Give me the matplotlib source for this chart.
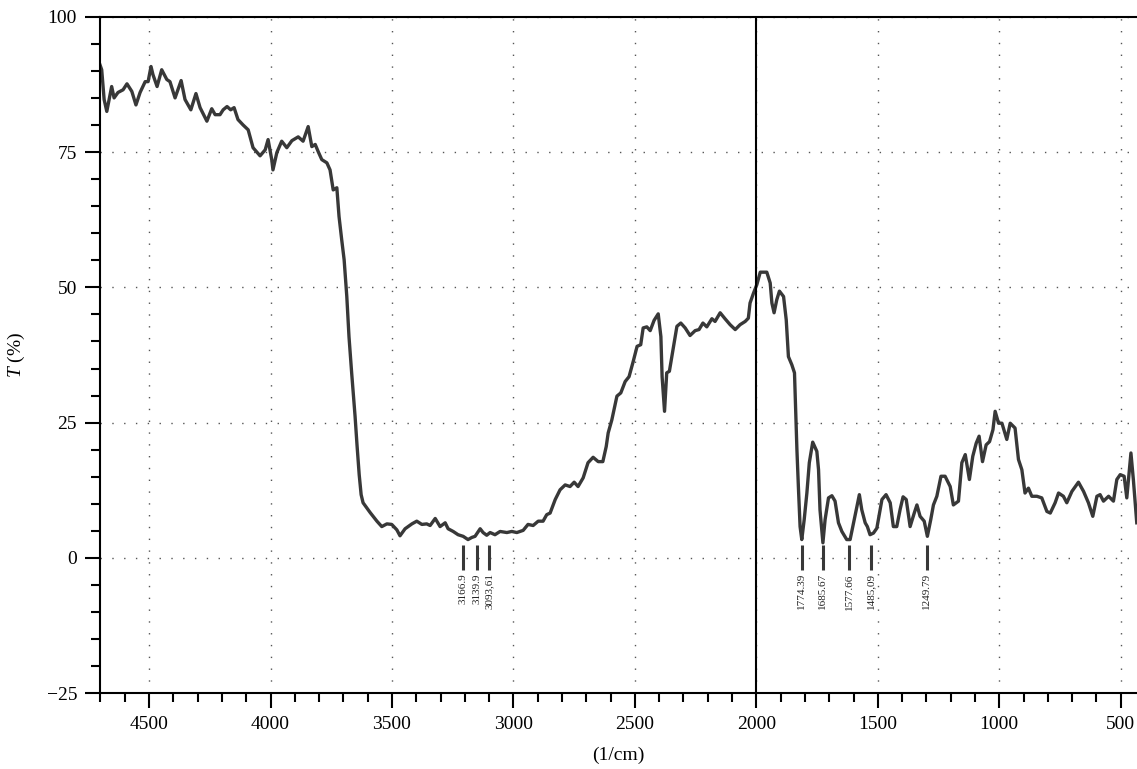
import matplotlib
matplotlib.use('Agg')
import matplotlib.pyplot as plt
from matplotlib.ticker import MultipleLocator
import numpy as np

plt.rcParams['font.family'] = ['Liberation Serif', 'DejaVu Serif']
plt.rcParams['mathtext.fontset'] = 'custom'
plt.rcParams['mathtext.it'] = 'Liberation Serif:italic'
plt.rcParams['mathtext.rm'] = 'Liberation Serif'

line_color = '#383838'
grid_color = '#555555'

# FTIR spectrum (wavenumber 1/cm, transmittance %)
wn = [4702, 4695, 4685, 4674, 4654, 4644, 4628, 4607, 4591, 4571, 4554, 4537,
      4516, 4504, 4492, 4484, 4467, 4448, 4427, 4414, 4393, 4368, 4352, 4328,
      4307, 4290, 4262, 4242, 4228, 4208, 4195, 4179, 4164, 4150, 4134, 4113,
      4092, 4072, 4043, 4022, 4010, 3995, 3990, 3974, 3954, 3933, 3912, 3886,
      3866, 3845, 3830, 3816, 3804, 3789, 3768, 3755, 3742, 3727, 3718, 3707,
      3697, 3686, 3677, 3666, 3652, 3644, 3635, 3627, 3619, 3590, 3562, 3542,
      3521, 3501, 3480, 3467, 3446, 3418, 3398, 3377, 3357, 3343, 3322, 3302,
      3281, 3269, 3248, 3228, 3207, 3187, 3171, 3158, 3137, 3125, 3110, 3096,
      3076, 3055, 3027, 3007, 2986, 2960, 2940, 2919, 2898, 2878, 2863, 2849,
      2828, 2808, 2787, 2767, 2750, 2734, 2713, 2693, 2672, 2651, 2632, 2618,
      2610, 2595, 2574, 2558, 2540, 2524, 2507, 2491, 2476, 2466, 2451, 2437,
      2421, 2404, 2393, 2388, 2378, 2369, 2358, 2341, 2327, 2311, 2293, 2273,
      2252, 2236, 2220, 2204, 2183, 2170, 2149, 2129, 2108, 2087, 2067, 2046,
      2033, 2026, 2012, 1998, 1984, 1957, 1943, 1936, 1927, 1916, 1905, 1888,
      1877, 1868, 1854, 1843, 1838, 1833, 1827, 1820, 1813, 1803, 1792, 1782,
      1768, 1751, 1744, 1738, 1726, 1717, 1703, 1689, 1676, 1662, 1648, 1628,
      1614, 1600, 1586, 1576, 1566, 1552, 1543, 1532, 1518, 1504, 1483, 1466,
      1449, 1436, 1422, 1408, 1396, 1383, 1367, 1350, 1339, 1326, 1309, 1296,
      1282, 1271, 1257, 1240, 1223, 1202, 1189, 1168, 1154, 1140, 1123, 1109,
      1095, 1083, 1069, 1054, 1040, 1026, 1017, 1003, 989, 969, 955, 935,
      921, 907, 894, 880, 866, 845, 825, 804, 790, 770, 756, 736,
      722, 701, 674, 653, 633, 615, 598, 585, 571, 550, 530, 516,
      502, 486, 475, 458, 448, 434]
trans = [91.1, 90.2, 84.7, 82.5, 87.1, 85.0, 86.0, 86.5, 87.6, 86.2, 83.7, 86.0,
         88.0, 88.0, 90.8, 89.3, 87.1, 90.2, 88.4, 88.0, 85.0, 88.2, 84.7, 82.8,
         85.8, 83.2, 80.7, 83.0, 81.9, 81.9, 82.8, 83.4, 82.8, 83.2, 81.0, 80.0,
         79.1, 75.8, 74.3, 75.4, 77.3, 73.6, 71.7, 74.9, 77.0, 75.8, 77.1, 77.8,
         77.0, 79.7, 76.0, 76.4, 75.1, 73.6, 73.0, 71.7, 68.0, 68.4, 63.1, 58.8,
         55.1, 48.3, 40.9, 34.2, 26.2, 20.9, 15.4, 11.7, 10.2, 8.4, 6.8, 5.8,
         6.3, 6.2, 5.2, 4.1, 5.4, 6.3, 6.8, 6.2, 6.3, 6.0, 7.3, 5.8,
         6.5, 5.4, 4.9, 4.3, 4.0, 3.4, 3.8, 4.0, 5.4, 4.7, 4.2, 4.7,
         4.3, 4.9, 4.7, 4.9, 4.7, 5.1, 6.2, 6.0, 6.8, 6.8, 8.0, 8.3,
         10.8, 12.6, 13.5, 13.2, 14.0, 13.2, 14.8, 17.6, 18.6, 17.8, 17.8, 20.6,
         23.1, 25.5, 29.9, 30.5, 32.6, 33.5, 36.3, 39.1, 39.4, 42.5, 42.7, 42.0,
         43.9, 45.1, 40.9, 33.5, 27.1, 34.2, 34.5, 39.1, 42.8, 43.4, 42.5, 41.1,
         42.0, 42.2, 43.4, 42.7, 44.2, 43.7, 45.3, 44.2, 43.1, 42.2, 43.1, 43.7,
         44.3, 47.1, 48.9, 50.5, 52.8, 52.8, 50.8, 47.1, 45.3, 47.7, 49.3, 48.3,
         44.0, 37.2, 35.7, 34.2, 26.8, 20.0, 13.2, 5.8, 3.4, 7.1, 12.0, 17.6,
         21.4, 19.7, 16.3, 8.9, 2.8, 7.1, 11.1, 11.5, 10.5, 6.5, 4.9, 3.4,
         3.4, 6.5, 9.5, 11.7, 8.9, 6.5, 5.8, 4.3, 4.6, 5.5, 10.8, 11.7,
         10.2, 5.8, 5.8, 9.0, 11.3, 10.8, 5.8, 8.3, 9.8, 7.7, 6.8, 4.0,
         7.1, 9.8, 11.4, 15.1, 15.1, 13.2, 9.8, 10.5, 17.6, 19.1, 14.5, 18.8,
         21.2, 22.5, 17.8, 20.9, 21.5, 23.7, 27.1, 24.9, 24.9, 21.9, 24.9, 24.0,
         18.2, 16.3, 12.0, 12.9, 11.4, 11.4, 11.1, 8.6, 8.3, 10.2, 12.0, 11.4,
         10.2, 12.3, 14.0, 12.3, 10.2, 7.7, 11.4, 11.7, 10.5, 11.4, 10.5, 14.5,
         15.4, 15.1, 11.1, 19.4, 14.5, 6.5]

# peak markers (position in plot) and their printed labels
peak_pos = [3206, 3149, 3099, 1813, 1726, 1617, 1529, 1298]
peak_labels = ['3166.9', '3139.9', '3093,61', '1774.39', '1685.67',
               '1577.66', '1485,09', '1249.79']

fig = plt.figure(figsize=(11.37, 7.69), dpi=100)
ax = fig.add_axes([100 / 1137, 75.7 / 769, 1037 / 1137, 676.6 / 769])

ax.plot(wn, trans, color=line_color, lw=2.4, solid_joinstyle='round')

for p, lab in zip(peak_pos, peak_labels):
    ax.plot([p, p], [2.4, -2.2], color=line_color, lw=2.2, solid_capstyle='butt')
    ax.text(p, -2.8, lab, rotation=90, ha='center', va='top', fontsize=8,
            color='#222222')

ax.axvline(2000, color='black', lw=1.5, zorder=3)

ax.set_xlim(4702, 433)
ax.set_ylim(-25, 100)
ax.xaxis.set_major_locator(MultipleLocator(500))
ax.xaxis.set_minor_locator(MultipleLocator(100))
ax.yaxis.set_major_locator(MultipleLocator(25))
ax.yaxis.set_minor_locator(MultipleLocator(5))

ax.grid(True, which='major', color=grid_color, linestyle=(0, (1, 7.5)), lw=1.0)
ax.tick_params(which='major', direction='out', length=10.5, width=1.5,
               labelsize=14, pad=6)
ax.tick_params(which='minor', direction='out', length=6.5, width=1.5)
ax.set_yticks([-25, 0, 25, 50, 75, 100])
ax.set_yticklabels(['\u221225', '0', '25', '50', '75', '100'])

for s in ['left', 'bottom', 'top']:
    ax.spines[s].set_linewidth(1.5)
ax.spines['right'].set_visible(False)

ax.set_xlabel('(1/cm)', fontsize=14, labelpad=10)
ax.set_ylabel(r'$T$ (%)', fontsize=14, labelpad=14)

fig.savefig('out.png', dpi=100)
